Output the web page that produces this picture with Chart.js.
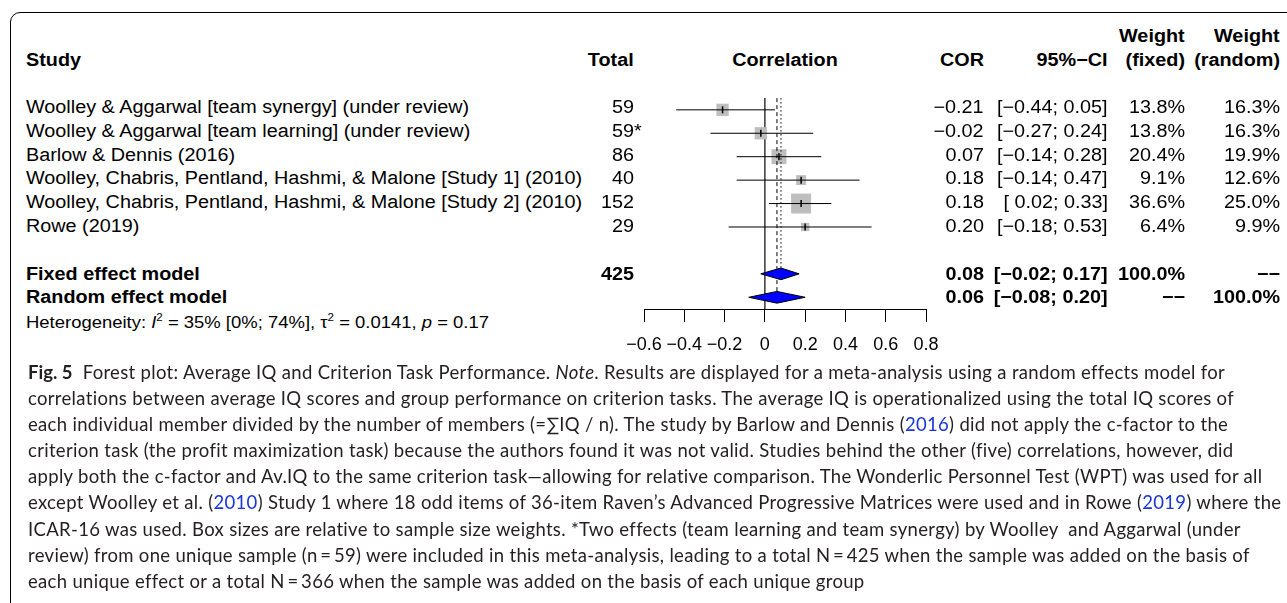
<!DOCTYPE html>
<html lang="en">
<head>
    <meta charset="UTF-8">
    <title>Forest plot: Average IQ and Criterion Task Performance</title>
    <script src="https://cdn.jsdelivr.net/npm/chart.js"></script>
    <style>
        body { margin: 0; width: 1287px; height: 603px; overflow: hidden; background: #fff; position: relative; }
        #frame { position: absolute; left: 10px; top: 12px; width: 1300px; height: 620px; border: 1px solid #000; border-radius: 10px; }
        #plotBox { position: absolute; left: 604px; top: 84px; width: 362px; height: 280px; }
        .t { position: absolute; white-space: pre; font-family: 'Liberation Sans', Arial, sans-serif; font-size: 18px; line-height: 20px; color: #000; }
        .b { font-weight: bold; }
        .het { font-size: 16.8px; }
        .het sup { font-size: 10.5px; line-height: 0; vertical-align: 7px; }
        #caption { position: absolute; left: 28px; top: 359px; font-family: Lato, 'Open Sans', sans-serif; font-size: 18.5px; letter-spacing: 0.32px; line-height: 26.1px; color: #231f20; white-space: nowrap; }
        #caption b { letter-spacing: 0; }
        #caption a { color: #1a35d8; text-decoration: none; }
    </style>
</head>
<body>
    <div id="frame"></div>
    <div id="plotBox"><canvas id="forestChart" width="362" height="280"></canvas></div>
    <div id="labels"></div>

    <div id="caption"><b>Fig. 5</b>&nbsp; Forest plot: Average IQ and Criterion Task Performance. <i>Note</i>. Results are displayed for a meta-analysis using a random effects model for<br>correlations between average IQ scores and group performance on criterion tasks. The average IQ is operationalized using the total IQ scores of<br>each individual member divided by the number of members (=∑IQ / n). The study by Barlow and Dennis (<a>2016</a>) did not apply the c-factor to the<br>criterion task (the profit maximization task) because the authors found it was not valid. Studies behind the other (five) correlations, however, did<br>apply both the c-factor and Av.IQ to the same criterion task—allowing for relative comparison. The Wonderlic Personnel Test (WPT) was used for all<br>except Woolley et al. (<a>2010</a>) Study 1 where 18 odd items of 36-item Raven’s Advanced Progressive Matrices were used and in Rowe (<a>2019</a>) where the<br>ICAR-16 was used. Box sizes are relative to sample size weights. *Two effects (team learning and team synergy) by Woolley&nbsp; and Aggarwal (under<br>review) from one unique sample (n&#8201;=&#8201;59) were included in this meta-analysis, leading to a total N&#8201;=&#8201;425 when the sample was added on the basis of<br>each unique effect or a total N&#8201;=&#8201;366 when the sample was added on the basis of each unique group</div>

    <script>
        // datos de los estudios
        var studies = [
            'Woolley & Aggarwal [team synergy] (under review)',
            'Woolley & Aggarwal [team learning] (under review)',
            'Barlow & Dennis (2016)',
            'Woolley, Chabris, Pentland, Hashmi, & Malone [Study 1] (2010)',
            'Woolley, Chabris, Pentland, Hashmi, & Malone [Study 2] (2010)',
            'Rowe (2019)'
        ];
        var totals = [59, 59, 86, 40, 152, 29];
        var totalMarks = ['', '*', '', '', '', ''];
        var cor = [-0.21, -0.02, 0.07, 0.18, 0.18, 0.20];
        var ciLo = [-0.44, -0.27, -0.14, -0.14, 0.02, -0.18];
        var ciHi = [0.05, 0.24, 0.28, 0.47, 0.33, 0.53];
        var wFixed = [13.8, 13.8, 20.4, 9.1, 36.6, 6.4];
        var wRandom = [16.3, 16.3, 19.9, 12.6, 25.0, 9.9];

        // modelos combinados
        var models = ['Fixed effect model', 'Random effect model'];
        var modelTotal = [425, null];
        var modelCor = [0.08, 0.06];
        var modelLo = [-0.02, -0.08];
        var modelHi = [0.17, 0.20];
        var modelWFixed = [100.0, null];
        var modelWRandom = [null, 100.0];

        // heterogeneidad
        var hetI2 = 35, hetI2Lo = 0, hetI2Hi = 74, hetTau2 = '0.0141', hetP = '0.17';

        // eje x
        var xTickValues = [-0.6, -0.4, -0.2, 0, 0.2, 0.4, 0.6, 0.8];
        var xTickLabels = ['−0.6', '−0.4', '−0.2', '0', '0.2', '0.4', '0.6', '0.8'];

        var rowTop = 106.7;   // centro de la primera fila (px)
        var rowStep = 23.8;   // separacion entre filas (px)
        var modelRows = [7, 8];
        var stretch = 1.1;

        function rowY(i) { return rowTop + rowStep * i; }

        function num(v) { return (v < 0 ? '−' : '') + Math.abs(v).toFixed(2); }
        function ci(lo, hi) { return '[' + (lo < 0 ? '−' : ' ') + Math.abs(lo).toFixed(2) + '; ' + num(hi) + ']'; }
        function pct(v) { return v == null ? '−−' : v.toFixed(1) + '%'; }

        var layer = document.getElementById('labels');
        function addText(html, x, y, align, cls) {
            var d = document.createElement('div');
            d.className = 't' + (cls ? ' ' + cls : '');
            d.innerHTML = html;
            d.style.top = (y - 9.8) + 'px';
            if (align === 'right') {
                d.style.right = (1287 - x) + 'px';
                d.style.transformOrigin = 'right center';
                d.style.transform = 'scaleX(' + stretch + ')';
            } else if (align === 'center') {
                d.style.left = x + 'px';
                d.style.transform = 'translateX(-50%) scaleX(' + stretch + ')';
            } else {
                d.style.left = x + 'px';
                d.style.transformOrigin = 'left center';
                d.style.transform = 'scaleX(' + stretch + ')';
            }
            layer.appendChild(d);
            return d;
        }
        function esc(s) { return s.replace(/&/g, '&amp;'); }

        // columnas (borde derecho)
        var colStudy = 26, colTotal = 634, colCorr = 785, colCOR = 984, colCI = 1108, colWF = 1185, colWR = 1280;

        // encabezados
        addText('Study', colStudy, 59.3, 'left', 'b');
        addText('Total', colTotal, 59.3, 'right', 'b');
        addText('Correlation', colCorr, 59.3, 'center', 'b');
        addText('COR', colCOR, 59.3, 'right', 'b');
        addText('95%−CI', colCI, 59.3, 'right', 'b');
        addText('Weight', colWF, 36, 'right', 'b');
        addText('(fixed)', colWF, 59.3, 'right', 'b');
        addText('Weight', colWR, 36, 'right', 'b');
        addText('(random)', colWR, 59.3, 'right', 'b');

        // filas de estudios
        for (var i = 0; i < studies.length; i++) {
            var y = rowY(i);
            addText(esc(studies[i]), colStudy, y, 'left');
            var tt = addText(String(totals[i]), colTotal, y, 'right');
            if (totalMarks[i]) {
                var m = document.createElement('span');
                m.textContent = totalMarks[i];
                m.style.position = 'absolute';
                m.style.left = '100%';
                tt.appendChild(m);
            }
            addText(num(cor[i]), colCOR, y, 'right');
            addText(ci(ciLo[i], ciHi[i]), colCI, y, 'right');
            addText(pct(wFixed[i]), colWF, y, 'right');
            addText(pct(wRandom[i]), colWR, y, 'right');
        }

        // filas de modelos
        for (var k = 0; k < models.length; k++) {
            var ym = rowY(modelRows[k]);
            addText(models[k], colStudy, ym, 'left', 'b');
            if (modelTotal[k] != null) addText(String(modelTotal[k]), colTotal, ym, 'right', 'b');
            addText(num(modelCor[k]), colCOR, ym, 'right', 'b');
            addText(ci(modelLo[k], modelHi[k]), colCI, ym, 'right', 'b');
            addText(pct(modelWFixed[k]), colWF, ym, 'right', 'b');
            addText(pct(modelWRandom[k]), colWR, ym, 'right', 'b');
        }

        addText('Heterogeneity: <i>I</i><sup>2</sup> = ' + hetI2 + '% [' + hetI2Lo + '%; ' + hetI2Hi + '%], τ<sup>2</sup> = ' + hetTau2 + ', <i>p</i> = ' + hetP,
            colStudy, 323, 'left', 'het');

        // datasets de la grafica
        var datasets = [];

        // linea vertical en cero
        datasets.push({
            data: [{x: 0, y: -0.5}, {x: 0, y: 8.5}],
            showLine: true, borderColor: '#444', borderWidth: 1.6, pointRadius: 0, order: 8
        });

        // cajas (tamaño segun peso fijo)
        datasets.push({
            data: cor.map(function (c, i) { return {x: c, y: i}; }),
            pointStyle: 'rect',
            pointRadius: wFixed.map(function (w) { return 3.3 * Math.sqrt(w) / Math.SQRT2; }),
            backgroundColor: '#bebebe', borderWidth: 0, order: 7
        });

        // lineas de referencia de los modelos
        datasets.push({
            data: [{x: modelCor[0], y: -0.5}, {x: modelCor[0], y: modelRows[0] - 0.25}],
            showLine: true, borderColor: '#000', borderWidth: 1, borderDash: [1.5, 2.5], pointRadius: 0, order: 5
        });
        datasets.push({
            data: [{x: modelCor[1], y: -0.5}, {x: modelCor[1], y: modelRows[1] - 0.25}],
            showLine: true, borderColor: '#000', borderWidth: 1, borderDash: [4, 3], pointRadius: 0, order: 5
        });

        // intervalos de confianza
        for (var j = 0; j < studies.length; j++) {
            datasets.push({
                data: [{x: ciLo[j], y: j}, {x: ciHi[j], y: j}],
                showLine: true, borderColor: '#000', borderWidth: 1, pointRadius: 0, order: 4
            });
        }

        // marca del estimador
        datasets.push({
            data: cor.map(function (c, i) { return {x: c, y: i}; }),
            pointStyle: 'line', rotation: 90, pointRadius: 3.5,
            borderColor: '#000', borderWidth: 1.5, order: 3
        });

        // diamantes de los modelos
        for (var d = 0; d < models.length; d++) {
            var r = modelRows[d], h = 0.25;
            datasets.push({
                data: [
                    {x: modelLo[d], y: r}, {x: modelCor[d], y: r - h},
                    {x: modelHi[d], y: r}, {x: modelCor[d], y: r + h},
                    {x: modelLo[d], y: r}
                ],
                showLine: true, fill: 'shape', tension: 0,
                backgroundColor: '#0000ff', borderColor: '#000', borderWidth: 1,
                pointRadius: 0, order: 1
            });
        }

        var ctx = document.getElementById('forestChart').getContext('2d');
        var forestChart = new Chart(ctx, {
            type: 'scatter',
            data: { datasets: datasets },
            options: {
                responsive: false,
                animation: false,
                events: [],
                layout: { padding: { top: 10.8, left: 40, right: 40, bottom: 10 } },
                plugins: { legend: { display: false }, tooltip: { enabled: false } },
                elements: { line: { tension: 0 } },
                scales: {
                    x: {
                        type: 'linear', min: -0.6, max: 0.8,
                        afterBuildTicks: function (s) { s.ticks = xTickValues.map(function (v) { return {value: v}; }); },
                        afterFit: function (s) { s.height = 45; },
                        grid: { drawOnChartArea: false, drawTicks: true, tickLength: 13, color: '#000', lineWidth: 1 },
                        border: { display: true, color: '#000', width: 1 },
                        ticks: {
                            autoSkip: false, maxRotation: 0, minRotation: 0, padding: 12, color: '#000',
                            font: { family: "'Liberation Sans', Arial, sans-serif", size: 18 },
                            callback: function (v, i) { return xTickLabels[i]; }
                        }
                    },
                    y: { type: 'linear', reverse: true, min: -0.5, max: 8.5, display: false }
                }
            }
        });
    </script>
</body>
</html>
